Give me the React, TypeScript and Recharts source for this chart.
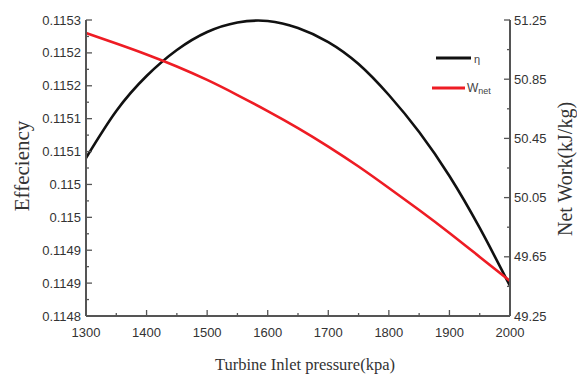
import { LineChart, Line, XAxis, YAxis, Customized } from 'recharts';

// turbine inlet pressure (kPa)
const pressure = [1300, 1350, 1400, 1450, 1500, 1550, 1600, 1650, 1700, 1750, 1800, 1850, 1900, 1950, 2000];
// thermal efficiency (left axis)
const efficiency = [
  0.1150669, 0.1151463, 0.1152054, 0.1152493, 0.1152797, 0.1152958, 0.1152983, 0.1152865,
  0.1152628, 0.1152257, 0.1151733, 0.1151108, 0.1150365, 0.1149487, 0.1148507,
];
// net work kJ/kg (right axis)
const netWork = [
  51.162, 51.091, 51.017, 50.936, 50.845, 50.743, 50.635, 50.52,
  50.395, 50.26, 50.115, 49.966, 49.811, 49.649, 49.487,
];

const xTicks = [1300, 1350, 1400, 1450, 1500, 1550, 1600, 1650, 1700, 1750, 1800, 1850, 1900, 1950, 2000];
const leftTicks = Array.from({ length: 19 }, (_, i) => 0.1148 + (i * 0.0005) / 18);
const rightTicks = [49.25, 49.45, 49.65, 49.85, 50.05, 50.25, 50.45, 50.65, 50.85, 51.05, 51.25];

const data = pressure.map((p, i) => ({ p, eta: efficiency[i], w: netWork[i] }));

const W = 577;
const H = 376;
const PL = 86;
const PR = 510;
const PT = 20;
const PB = 316;
const AXIS = '#555';
const TICK_FONT = '"Liberation Sans", Arial, sans-serif';
const LABEL_FONT = '"Liberation Serif", "Times New Roman", serif';

const BottomTick = (props: any) => {
  const { payload, index } = props;
  const x = payload.coordinate;
  const major = index % 2 === 0;
  return (
    <g>
      <line x1={x} x2={x} y1={PB} y2={PB - (major ? 6 : 3)} stroke={AXIS} strokeWidth={1.3} />
      {major && (
        <text x={x} y={PB + 16} textAnchor="middle" dominantBaseline="central" fontFamily={TICK_FONT} fontSize={13} fill="#333">
          {payload.value}
        </text>
      )}
    </g>
  );
};

const TopTick = (props: any) => {
  const { payload, index } = props;
  const x = payload.coordinate;
  const major = index % 2 === 0;
  return <line x1={x} x2={x} y1={PT} y2={PT + (major ? 6 : 3)} stroke={AXIS} strokeWidth={1.3} />;
};

const LeftTick = (props: any) => {
  const { payload, index } = props;
  const y = payload.coordinate;
  const major = index % 2 === 0;
  return (
    <g>
      <line x1={PL} x2={PL + (major ? 6 : 3)} y1={y} y2={y} stroke={AXIS} strokeWidth={1.3} />
      {major && (
        <text x={PL - 5} y={y} textAnchor="end" dominantBaseline="central" fontFamily={TICK_FONT} fontSize={13} fill="#333">
          {String(Number(payload.value.toFixed(4)))}
        </text>
      )}
    </g>
  );
};

const RightTick = (props: any) => {
  const { payload, index } = props;
  const y = payload.coordinate;
  const major = index % 2 === 0;
  return (
    <g>
      <line x1={PR} x2={PR - (major ? 6 : 3)} y1={y} y2={y} stroke={AXIS} strokeWidth={1.3} />
      {major && (
        <text x={PR + 4} y={y} textAnchor="start" dominantBaseline="central" fontFamily={TICK_FONT} fontSize={13} fill="#333">
          {payload.value.toFixed(2)}
        </text>
      )}
    </g>
  );
};

const Decorations = () => (
  <g>
    <text x={305} y={364} textAnchor="middle" dominantBaseline="central" fontFamily={LABEL_FONT} fontSize={16.5} fill="#333">
      Turbine Inlet pressure(kpa)
    </text>
    <text
      x={22}
      y={166}
      transform="rotate(-90 22 166)"
      textAnchor="middle"
      dominantBaseline="central"
      fontFamily={LABEL_FONT}
      fontSize={21}
      fill="#333"
    >
      Effeciency
    </text>
    <text
      x={565}
      y={169}
      transform="rotate(-90 565 169)"
      textAnchor="middle"
      dominantBaseline="central"
      fontFamily={LABEL_FONT}
      fontSize={20}
      fill="#333"
    >
      Net Work(kJ/kg)
    </text>
    {/* legend */}
    <line x1={436} x2={471} y1={58} y2={58} stroke="#111" strokeWidth={3} />
    <text x={474} y={63} fontFamily={TICK_FONT} fontSize={11} fill="#444">η</text>
    <line x1={432} x2={465} y1={88} y2={88} stroke="#ee1c24" strokeWidth={3} />
    <text x={467} y={92} fontFamily={TICK_FONT} fontSize={12} fill="#444">
      W<tspan fontSize={9} dy={2}>net</tspan>
    </text>
  </g>
);

export default function App() {
  return (
    <div style={{ position: 'absolute', left: 0, top: 0, width: W, height: H, background: '#fff' }}>
      <LineChart width={W} height={H} data={data} margin={{ top: PT, right: 7, bottom: 30, left: 10 }}>
        <XAxis
          xAxisId="bottom"
          dataKey="p"
          type="number"
          domain={[1300, 2000]}
          ticks={xTicks}
          interval={0}
          height={30}
          tick={<BottomTick />}
          tickLine={false}
          axisLine={{ stroke: AXIS, strokeWidth: 2 }}
        />
        <XAxis
          xAxisId="top"
          orientation="top"
          dataKey="p"
          type="number"
          domain={[1300, 2000]}
          ticks={xTicks}
          interval={0}
          height={0}
          tick={<TopTick />}
          tickLine={false}
          axisLine={{ stroke: AXIS, strokeWidth: 2 }}
        />
        <YAxis
          yAxisId="left"
          type="number"
          domain={[0.1148, 0.1153]}
          ticks={leftTicks}
          interval={0}
          width={76}
          tick={<LeftTick />}
          tickLine={false}
          axisLine={{ stroke: AXIS, strokeWidth: 2 }}
        />
        <YAxis
          yAxisId="right"
          orientation="right"
          type="number"
          domain={[49.25, 51.25]}
          ticks={rightTicks}
          interval={0}
          width={60}
          tick={<RightTick />}
          tickLine={false}
          axisLine={{ stroke: AXIS, strokeWidth: 2 }}
        />
        <Line
          xAxisId="bottom"
          yAxisId="left"
          dataKey="eta"
          type="natural"
          stroke="#111"
          strokeWidth={2.6}
          dot={false}
          isAnimationActive={false}
        />
        <Line
          xAxisId="bottom"
          yAxisId="right"
          dataKey="w"
          type="natural"
          stroke="#ee1c24"
          strokeWidth={2.6}
          dot={false}
          isAnimationActive={false}
        />
        <Customized component={Decorations} />
      </LineChart>
    </div>
  );
}
